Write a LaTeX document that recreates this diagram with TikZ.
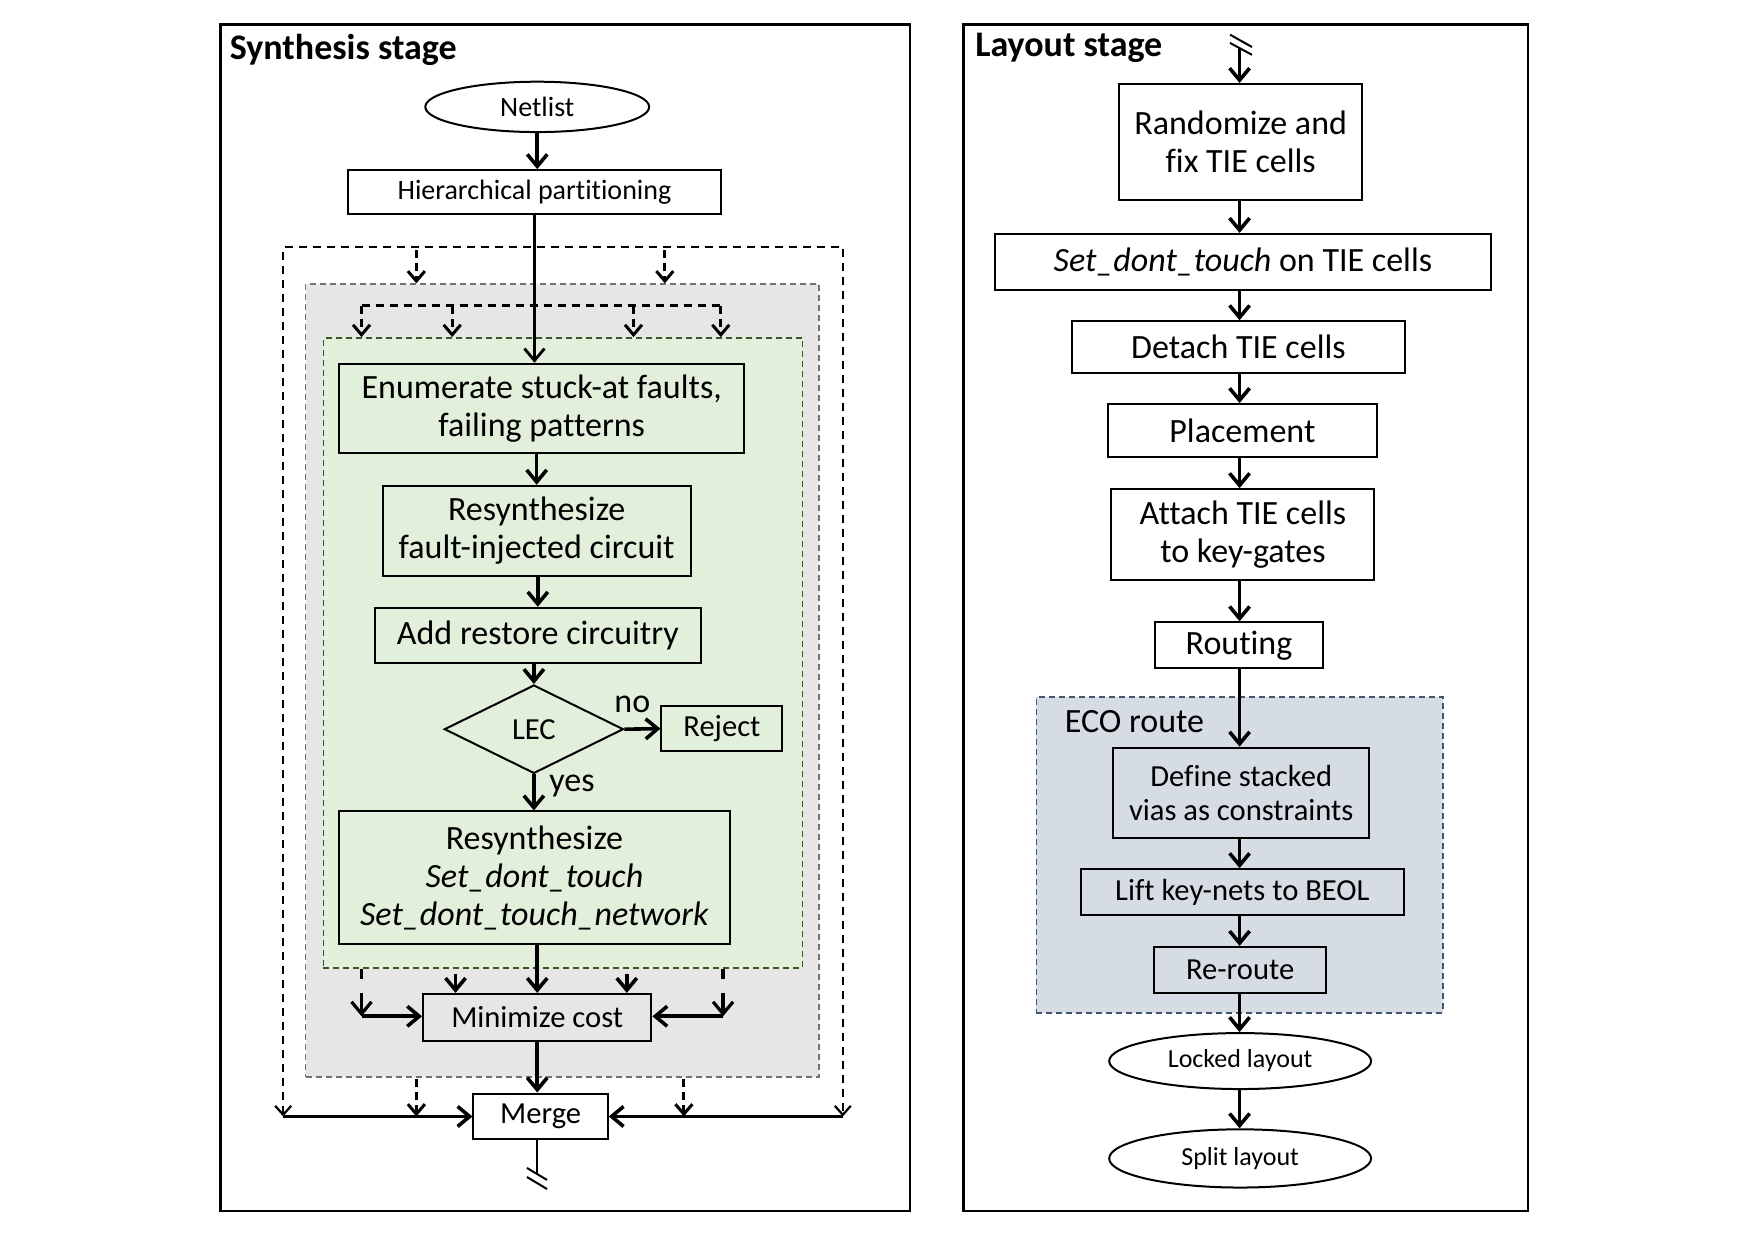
\documentclass[tikz,border=0pt]{standalone}
\usepackage{fontspec}
\setmainfont{Carlito}[Ligatures={NoCommon}]
\usetikzlibrary{arrows.meta,shapes.geometric}
\definecolor{grayfill}{RGB}{231,230,230}
\definecolor{graydash}{RGB}{118,113,113}
\definecolor{greenfill}{RGB}{226,239,218}
\definecolor{greendash}{RGB}{56,87,35}
\definecolor{ecofill}{RGB}{214,220,228}
\definecolor{ecodash}{RGB}{68,84,106}
\newcommand\pxu{0.55965pt}
\newcommand\fL{\fontsize{17}{19}\selectfont}
\newcommand\fM{\fontsize{15.3}{17.3}\selectfont}
\newcommand\fS{\fontsize{14}{16}\selectfont}
\newcommand\fXS{\fontsize{13}{15}\selectfont}
\newcommand\fT{\bfseries\fontsize{18}{20}\selectfont}
\begin{document}
\begin{tikzpicture}[x=0.55965pt, y=-0.55965pt,
  sz/.style 2 args={minimum width=#1*\pxu, minimum height=#2*\pxu},
  box/.style={draw, line width=1pt, inner sep=0pt, align=center, font=\fL},
  oval/.style={draw, ellipse, line width=1pt, inner sep=0pt, font=\fS},
  panel/.style={draw, line width=1.2pt, inner sep=0pt},
  region/.style={dash pattern=on 3pt off 2pt, line width=0.9pt, inner sep=0pt},
  arr/.style={line width=1.8pt, -{Straight Barb[length=6pt,width=10pt]}},
  dasharr/.style={line width=1.5pt, dash pattern=on 4pt off 2.5pt, -{Straight Barb[length=5pt,width=8.5pt]}},
  stubarr/.style={line width=1.6pt, dash pattern=on 5pt off 7pt on 40pt, -{Straight Barb[length=6pt,width=10pt]}},
  thin/.style={line width=1pt},
  lbl/.style={inner sep=0pt, font=\fL}]
\fill[white] (0,0) rectangle (1568,1108);
\useasboundingbox (0,0) rectangle (1568,1108);

% panels
\node[panel, sz={616}{1060}] (panL) at (505,552) {};
\node[panel, sz={504}{1060}] (panR) at (1113,552) {};
\node[anchor=west, inner sep=0pt, font=\fT] (ttlL) at (205,45) {Synthesis stage};
\node[anchor=west, inner sep=0pt, font=\fT] (ttlR) at (871,43) {Layout stage};

% ---------- synthesis stage ----------
\node[oval, sz={200}{45}] (net) at (480,95.5) {Netlist};
\node[box, font=\fS, sz={333}{39}] (hier) at (477.5,171.5) {Hierarchical partitioning};

\node[region, draw=graydash, fill=grayfill, sz={459}{708}] (gbox) at (502.5,608) {};
\node[region, draw=greendash, fill=greenfill, sz={428}{563}] (grbox) at (503,583.5) {};

\node[box, fill=greenfill, sz={362}{80}] (enum) at (484,365) {Enumerate stuck-at faults,\\failing patterns};
\node[box, fill=greenfill, sz={275}{81}] (resyn) at (479.5,474.5) {Resynthesize\\fault-injected circuit};
\node[box, fill=greenfill, sz={291}{49}] (restore) at (480.5,567.5) {Add restore circuitry};
\node[draw, diamond, line width=1pt, fill=greenfill, inner sep=0pt, font=\fM, sz={160}{79}] (lec) at (477,651.5) {LEC};
\node[box, font=\fM, fill=greenfill, sz={108}{40}] (rej) at (645,651) {Reject};
\node[lbl] (no) at (565,629) {no};
\node[lbl] (yes) at (511,702) {yes};
\node[box, fill=greenfill, sz={349}{118}] (resyn2) at (477.5,784) {Resynthesize\\\textit{Set\_dont\_touch}\\\textit{Set\_dont\_touch\_network}};
\node[box, font=\fM, fill=grayfill, sz={204}{42}] (mini) at (480,909) {Minimize cost};
\node[box, font=\fM, fill=white, sz={120}{41}] (merge) at (483,997.5) {Merge};

% main flow
\draw[arr] (net.south) -- (net.south |- hier.north);
\draw[arr, line width=1.4pt] (hier.south) -- (hier.south |- enum.north);
\draw[arr] (resyn.north |- enum.south) -- (resyn.north);
\draw[arr] (restore.north |- resyn.south) -- (restore.north);
\draw[arr] (lec.north |- restore.south) -- (lec.north);
\draw[arr] (lec.east) -- (rej.west);
\draw[arr] (lec.south) -- (lec.south |- resyn2.north);
\draw[arr] (mini.north |- resyn2.south) -- (mini.north);
\draw[arr] (mini.south) -- (mini.south |- merge.north);

% outer dashed frame
\coordinate (otl) at (253,221);
\coordinate (otr) at (753,221);
\coordinate (obl) at (253,997.5);
\coordinate (obr) at (753,997.5);
\draw[line width=1.1pt, dash pattern=on 4pt off 3pt, {Straight Barb[length=4.5pt,width=8pt]}-{Straight Barb[length=4.5pt,width=8pt]}] (obl) -- (otl) -- (otr) -- (obr);
\coordinate (ta1) at (372,223);
\coordinate (ta2) at (594,223);
\draw[dasharr] (ta1) -- (ta1 |- gbox.north);
\draw[dasharr] (ta2) -- (ta2 |- gbox.north);

% inner dashed bar
\coordinate (b1) at (323,273);
\coordinate (b2) at (404,273);
\coordinate (b3) at (566,273);
\coordinate (b4) at (644,273);
\draw[line width=1.1pt, dash pattern=on 4pt off 3pt] (b1) -- (b4);
\draw[dasharr] (b1) -- (b1 |- grbox.north);
\draw[dasharr] (b2) -- (b2 |- grbox.north);
\draw[dasharr] (b3) -- (b3 |- grbox.north);
\draw[dasharr] (b4) -- (b4 |- grbox.north);

% into minimize cost
\coordinate (s1) at (323,866);
\coordinate (c1) at (323,908);
\coordinate (s2) at (646,866);
\coordinate (c2) at (646,908);
\draw[stubarr] (s1) -- (c1);
\draw[stubarr] (s2) -- (c2);
\draw[arr] (c1) -- (c1 -| mini.west);
\draw[arr] (c2) -- (c2 -| mini.east);
\coordinate (m1) at (407,870);
\coordinate (m2) at (560,870);
\draw[arr] (m1) -- (m1 |- mini.north);
\draw[arr] (m2) -- (m2 |- mini.north);

% into merge
\coordinate (d1) at (372,964);
\coordinate (d2) at (611,964);
\draw[dasharr] (d1) -- (d1 |- merge.west);
\draw[dasharr] (d2) -- (d2 |- merge.east);
\draw[arr] (obl) -- (obl -| merge.west);
\draw[arr] (obr) -- (obr -| merge.east);

% break mark below merge
\coordinate (mb) at (479.5,1049);
\draw[thin] (merge.south -| mb) -- (mb);
\draw[thin] (470.8,1043.5) -- (488.7,1054.2);
\draw[thin] (470.8,1051.6) -- (488.7,1062.3);

% ---------- layout stage ----------
\node[box, sz={217}{104}] (rand) at (1108.5,127) {Randomize and\\fix TIE cells};
\node[box, sz={443}{50}] (sdt) at (1110.5,234) {\textit{Set\_dont\_touch} on TIE cells};
\node[box, sz={297}{46}] (det) at (1106.5,310) {Detach TIE cells};
\node[box, sz={240}{47}] (plc) at (1110,384.5) {Placement};
\node[box, sz={235}{81}] (att) at (1110.5,477.5) {Attach TIE cells\\to key-gates};
\node[box, sz={150}{41}] (rout) at (1107,576.5) {Routing};
\node[region, draw=ecodash, fill=ecofill, sz={363}{282}] (eco) at (1107.5,764) {};
\node[anchor=west, lbl] (ecot) at (951,645) {ECO route};
\node[box, font=\fM, fill=ecofill, sz={229}{81}] (def) at (1109,708.5) {Define stacked\\vias as constraints};
\node[box, font=\fM, fill=ecofill, sz={288}{41}] (lift) at (1110,797) {Lift key-nets to BEOL};
\node[box, font=\fM, fill=ecofill, sz={154}{41}] (rer) at (1108,866.5) {Re-route};
\node[oval, font=\fXS, sz={234}{50}] (lock) at (1108,948) {Locked layout};
\node[oval, font=\fXS, sz={234}{52}] (split) at (1108,1035) {Split layout};

\coordinate (rx) at (1107.5,43);
\draw[arr] (rx) -- (rx |- rand.north);
\draw[thin] (1099,31) -- (1118.6,42);
\draw[thin] (1099,38.4) -- (1118.6,49);
\draw[arr] (rx |- rand.south) -- (rx |- sdt.north);
\draw[arr] (rx |- sdt.south) -- (rx |- det.north);
\draw[arr] (rx |- det.south) -- (rx |- plc.north);
\draw[arr] (rx |- plc.south) -- (rx |- att.north);
\draw[arr] (rx |- att.south) -- (rx |- rout.north);
\draw[arr] (rx |- rout.south) -- (rx |- def.north);
\draw[arr] (rx |- def.south) -- (rx |- lift.north);
\draw[arr] (rx |- lift.south) -- (rx |- rer.north);
\draw[arr] (rx |- rer.south) -- (rx |- lock.north);
\draw[arr] (rx |- lock.south) -- (rx |- split.north);
\end{tikzpicture}
\end{document}
